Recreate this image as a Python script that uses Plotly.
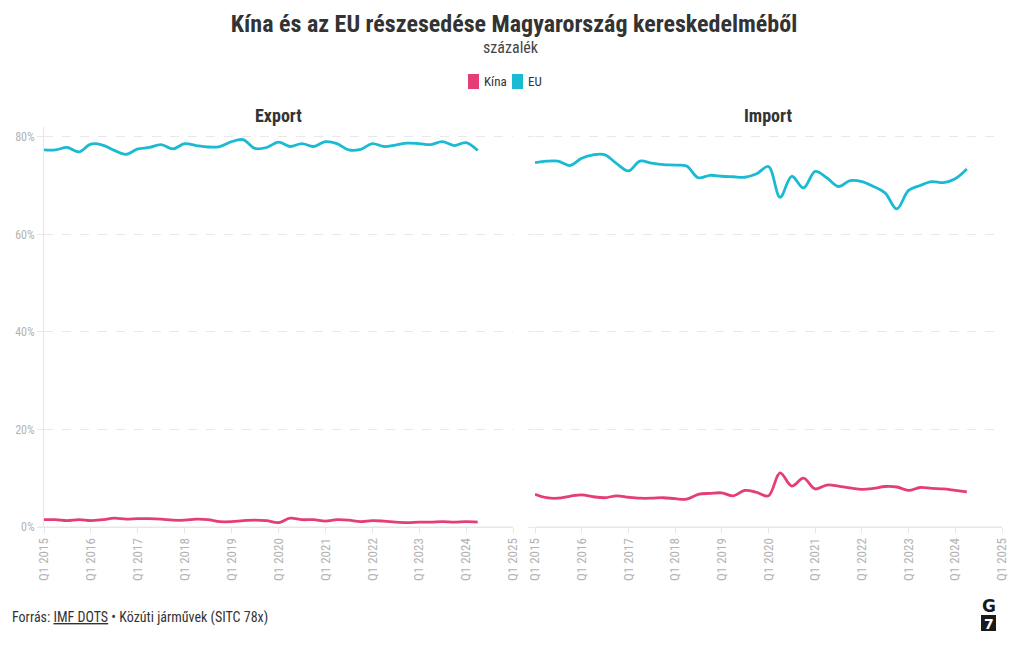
import plotly.graph_objects as go

quarters = [
    "2015-01-01", "2015-04-01", "2015-07-01", "2015-10-01",
    "2016-01-01", "2016-04-01", "2016-07-01", "2016-10-01",
    "2017-01-01", "2017-04-01", "2017-07-01", "2017-10-01",
    "2018-01-01", "2018-04-01", "2018-07-01", "2018-10-01",
    "2019-01-01", "2019-04-01", "2019-07-01", "2019-10-01",
    "2020-01-01", "2020-04-01", "2020-07-01", "2020-10-01",
    "2021-01-01", "2021-04-01", "2021-07-01", "2021-10-01",
    "2022-01-01", "2022-04-01", "2022-07-01", "2022-10-01",
    "2023-01-01", "2023-04-01", "2023-07-01", "2023-10-01",
    "2024-01-01", "2024-04-01",
]

export_eu = [77.3, 77.3, 77.8, 76.9, 78.5, 78.3, 77.2, 76.4, 77.5, 77.8,
             78.4, 77.5, 78.6, 78.2, 77.9, 78.0, 79.0, 79.4, 77.6, 77.8,
             78.9, 78.0, 78.6, 78.0, 79.0, 78.6, 77.3, 77.4, 78.6, 78.0,
             78.3, 78.7, 78.6, 78.4, 79.0, 78.2, 78.8, 77.2]
export_kina = [1.5, 1.5, 1.3, 1.5, 1.3, 1.5, 1.8, 1.6, 1.7, 1.7,
               1.6, 1.4, 1.4, 1.6, 1.5, 1.1, 1.1, 1.3, 1.4, 1.3,
               0.9, 1.8, 1.5, 1.5, 1.2, 1.5, 1.4, 1.1, 1.3, 1.2,
               1.0, 0.9, 1.0, 1.0, 1.1, 1.0, 1.1, 1.0]
import_eu = [74.7, 75.0, 75.0, 74.1, 75.6, 76.3, 76.3, 74.5, 73.0, 75.0,
             74.6, 74.3, 74.2, 74.0, 71.6, 72.1, 71.9, 71.8, 71.7, 72.4,
             73.9, 67.6, 71.9, 69.5, 72.9, 71.6, 69.8, 71.0, 70.8, 69.8,
             68.5, 65.2, 69.0, 70.0, 70.8, 70.6, 71.4, 73.4]
import_kina = [6.7, 6.0, 5.9, 6.3, 6.6, 6.2, 6.0, 6.4, 6.1, 5.9,
               5.9, 6.0, 5.8, 5.7, 6.7, 6.9, 7.0, 6.4, 7.5, 7.1,
               6.4, 11.1, 8.4, 10.0, 7.8, 8.6, 8.4, 8.0, 7.7, 7.9,
               8.3, 8.2, 7.5, 8.1, 7.9, 7.8, 7.5, 7.2]

tick_vals = ["2015-01-01", "2016-01-01", "2017-01-01", "2018-01-01", "2019-01-01",
             "2020-01-01", "2021-01-01", "2022-01-01", "2023-01-01", "2024-01-01",
             "2025-01-01"]
tick_text = ["Q1 2015", "Q1 2016", "Q1 2017", "Q1 2018", "Q1 2019", "Q1 2020",
             "Q1 2021", "Q1 2022", "Q1 2023", "Q1 2024", "Q1 2025"]
y_ticks = [0, 20, 40, 60, 80]
y_tick_text = ["0%", "20%", "40%", "60%", "80%"]

panel_titles = ["Export", "Import"]
series_names = ["Kína", "EU"]

COL_KINA = "#e53d77"
COL_EU = "#19bad2"
FONT = "Source Sans Pro, Roboto Condensed, Liberation Sans Narrow, Roboto, sans-serif"

# page has an 8px body margin; figure is sized so that it fills the window
OFF = 8
W, H = 1020 - OFF, 650 - OFF
ML, MR, MT, MB = 44 - OFF, 18, 127 - OFF, H - (527 - OFF)
PW, PH = W - ML - MR, H - MT - MB


def px(xp):  # picture x -> paper x
    return (xp - OFF - ML) / PW


def py(yp):  # picture y -> paper y
    return (H - MB - (yp - OFF)) / PH


fig = go.Figure()

panels = [("x", "y", export_kina, export_eu), ("x2", "y2", import_kina, import_eu)]
for xa, ya, kina, eu in panels:
    fig.add_trace(go.Scatter(x=quarters, y=kina, xaxis=xa, yaxis=ya, mode="lines",
                             line=dict(color=COL_KINA, width=2.8, shape="spline", smoothing=1),
                             name=series_names[0], showlegend=False,
                             hovertemplate="%{y:.1f}%<extra>Kína</extra>"))
    fig.add_trace(go.Scatter(x=quarters, y=eu, xaxis=xa, yaxis=ya, mode="lines",
                             line=dict(color=COL_EU, width=2.8, shape="spline", smoothing=1),
                             name=series_names[1], showlegend=False,
                             hovertemplate="%{y:.1f}%<extra>EU</extra>"))

xaxis_common = dict(
    type="date", range=["2015-01-01", "2025-01-01"],
    tickvals=tick_vals, ticktext=tick_text, tickangle=-90,
    tickfont=dict(size=13, color="#b3b3b3", family=FONT),
    showgrid=False, ticks="outside", ticklen=5, tickcolor="#e6e6e6",
    showline=True, linecolor="#e6e6e6", linewidth=1, zeroline=False,
)
yaxis_common = dict(
    range=[0, 82], tickvals=y_ticks, ticktext=y_tick_text,
    showgrid=True, gridcolor="#e8e8e8", griddash="dash", gridwidth=1,
    zeroline=False, ticks="outside", ticklen=6, tickcolor="#e8e8e8",
    tickfont=dict(size=12, color="#b3b3b3", family=FONT),
)

fig.update_layout(
    width=W, height=H,
    margin=dict(l=ML, r=MR, t=MT, b=MB, autoexpand=False),
    paper_bgcolor="white", plot_bgcolor="white",
    font=dict(family=FONT, color="#333333"),
    title=dict(text="<b>Kína és az EU részesedése Magyarország kereskedelméből</b>",
               x=0.5, xanchor="center", y=1 - (24 - OFF) / H, yanchor="middle",
               font=dict(size=24, color="#333333", family=FONT)),
    xaxis=dict(domain=[0, px(513)], **xaxis_common),
    xaxis2=dict(domain=[px(535), 1], **xaxis_common),
    yaxis=dict(anchor="x", showline=True, linecolor="#e6e6e6", linewidth=1, **yaxis_common),
    yaxis2=dict(anchor="x2", showline=False, showticklabels=False, **yaxis_common),
    showlegend=False,
)

shapes = []
# zero baselines
shapes.append(dict(type="line", xref="paper", yref="y", x0=px(38), x1=px(513), y0=0, y1=0,
                   line=dict(color="#e6e6e6", width=1), layer="below"))
shapes.append(dict(type="line", xref="paper", yref="y2", x0=px(535), x1=1, y0=0, y1=0,
                   line=dict(color="#e6e6e6", width=1), layer="below"))
# legend swatches
for x0, col in [(468, COL_KINA), (512, COL_EU)]:
    shapes.append(dict(type="rect", xref="paper", yref="paper",
                       x0=px(x0), x1=px(x0 + 11), y0=py(89), y1=py(74),
                       fillcolor=col, line=dict(width=0)))
# logo box
shapes.append(dict(type="rect", xref="paper", yref="paper",
                   x0=px(981), x1=px(996), y0=py(631), y1=py(615),
                   fillcolor="#1a1a1a", line=dict(width=0)))
fig.update_layout(shapes=shapes)

annotations = [
    dict(text="százalék", x=px(511), y=py(47), font=dict(size=16, color="#444444")),
    dict(text=series_names[0], x=px(482), y=py(82), xanchor="left",
         font=dict(size=13, color="#333333")),
    dict(text=series_names[1], x=px(526), y=py(82), xanchor="left",
         font=dict(size=13, color="#333333")),
    dict(text="<b>" + panel_titles[0] + "</b>", x=px(278), y=py(116),
         font=dict(size=18, color="#333333")),
    dict(text="<b>" + panel_titles[1] + "</b>", x=px(768), y=py(116),
         font=dict(size=18, color="#333333")),
    dict(text="Forrás: <u>IMF DOTS</u> • Közúti járművek (SITC 78x)", x=px(10), y=py(617),
         xanchor="left", font=dict(size=14, color="#333333")),
    dict(text="<b>G</b>", x=px(988.5), y=py(606),
         font=dict(size=17, color="#1a1a1a", family="DejaVu Sans")),
    dict(text="<b>7</b>", x=px(988.5), y=py(623.5),
         font=dict(size=14, color="white", family="DejaVu Sans")),
]
for a in annotations:
    a.setdefault("xanchor", "center")
    a.update(xref="paper", yref="paper", showarrow=False, yanchor="middle")
    a["font"].setdefault("family", FONT)
fig.update_layout(annotations=annotations)

fig.write_html("out.html")
